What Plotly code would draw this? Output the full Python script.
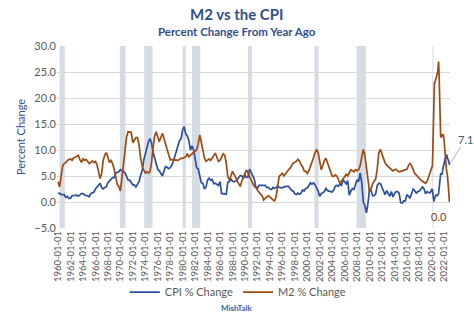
import pandas as pd
import plotly.graph_objects as go

# ---------------- data ----------------
# quarterly values Jan/Apr/Jul/Oct, 1960-2019
cpi_q = [
    1.6, 1.7, 1.4, 1.4, 1.4, 0.9, 1.1, 0.7, 0.7, 1.2, 1.2, 1.3, 1.3, 1.1, 1.4, 1.6, 1.6, 1.4, 1.2, 1.2,
    1.0, 1.6, 1.8, 1.9, 2.5, 2.8, 3.2, 3.6, 2.8, 2.5, 2.8, 2.9, 3.7, 4.0, 4.5, 4.7, 4.7, 5.5, 5.7, 5.8,
    6.2, 6.0, 5.8, 5.6, 4.9, 4.2, 4.2, 3.6, 3.3, 3.3, 2.9, 3.4, 3.9, 5.1, 6.0, 8.0, 9.4, 10.2, 11.5, 12.2,
    11.4, 9.6, 8.6, 7.4, 6.3, 6.0, 5.5, 5.0, 5.9, 6.8, 6.7, 6.4, 6.6, 7.0, 7.8, 8.9, 9.9, 10.7, 11.8, 12.2,
    13.9, 14.5, 13.1, 12.7, 11.8, 10.0, 10.8, 10.1, 8.4, 6.6, 6.4, 5.0, 3.7, 3.6, 2.5, 2.9, 4.2, 4.6, 4.2, 4.3,
    3.5, 3.6, 3.4, 3.2, 3.9, 1.6, 1.6, 1.5, 1.5, 3.8, 3.9, 4.5, 4.0, 3.9, 4.1, 4.2, 4.7, 5.1, 5.0, 4.5,
    5.2, 4.7, 4.8, 6.3, 5.7, 4.9, 4.4, 2.9, 2.6, 3.2, 3.2, 3.2, 3.3, 3.2, 2.8, 2.8, 2.5, 2.4, 2.8, 2.6,
    2.8, 3.1, 2.8, 2.8, 2.7, 2.9, 3.0, 3.0, 3.0, 2.5, 2.2, 2.1, 1.6, 1.4, 1.7, 1.5, 1.7, 2.3, 2.1, 2.6,
    2.7, 3.1, 3.7, 3.4, 3.7, 3.3, 2.7, 2.1, 1.1, 1.6, 1.8, 2.0, 2.6, 2.2, 2.1, 2.0, 1.9, 2.3, 3.0, 3.2,
    3.0, 3.5, 3.2, 4.3, 4.0, 3.5, 4.1, 1.3, 2.1, 2.6, 2.4, 3.5, 4.3, 3.9, 5.6, 3.7, 0.0, -0.7, -2.1, -0.2,
    2.6, 2.2, 1.2, 1.2, 1.6, 3.2, 3.6, 3.5, 2.9, 2.3, 1.4, 2.2, 1.6, 1.1, 2.0, 1.0, 1.6, 2.0, 2.0, 1.7,
    -0.1, -0.2, 0.2, 0.2, 1.4, 1.1, 0.8, 1.6, 2.5, 2.2, 1.7, 2.0, 2.1, 2.5, 2.9, 2.5, 1.6, 2.0, 1.8, 1.8,
]
m2_q = [
    3.9, 2.9, 5.0, 7.0, 7.4, 7.6, 8.0, 8.2, 8.3, 8.0, 8.5, 8.6, 8.8, 9.0, 8.2, 7.6, 8.3, 8.0, 8.2, 7.8,
    7.4, 7.6, 7.9, 7.6, 7.8, 7.2, 6.0, 4.5, 5.5, 8.0, 9.0, 9.5, 8.6, 7.6, 8.0, 7.4, 6.4, 5.0, 3.4, 3.0,
    2.1, 4.5, 7.5, 9.5, 12.5, 13.5, 13.4, 13.4, 11.4, 12.0, 12.4, 12.4, 11.0, 8.5, 6.9, 6.2, 5.6, 5.8, 5.6, 5.8,
    7.5, 10.5, 12.6, 13.5, 12.5, 11.6, 12.4, 13.2, 12.2, 11.3, 10.2, 9.3, 8.1, 8.2, 8.0, 8.1, 8.1, 8.0, 8.2, 8.4,
    8.4, 8.6, 8.7, 9.3, 8.7, 9.0, 9.3, 9.5, 9.8, 10.0, 11.2, 12.9, 11.5, 10.0, 8.5, 7.8, 8.1, 8.3, 8.0, 8.6,
    9.0, 9.4, 8.6, 7.8, 8.0, 8.8, 9.3, 9.0, 7.5, 4.9, 4.2, 5.0, 5.9, 5.3, 4.8, 4.0, 3.5, 3.0, 4.0, 4.9,
    5.5, 6.2, 5.5, 4.8, 4.0, 3.6, 3.0, 2.8, 2.3, 1.8, 1.5, 1.2, 0.4, 0.7, 1.0, 1.2, 1.0, 0.6, 0.4, 0.2,
    1.0, 3.0, 4.9, 5.2, 5.5, 5.0, 5.4, 6.0, 6.2, 6.5, 7.0, 7.5, 7.6, 7.8, 8.2, 7.9, 7.2, 6.8, 6.0, 5.9,
    5.5, 6.0, 6.8, 7.5, 8.5, 9.5, 10.1, 9.5, 7.5, 6.2, 7.0, 8.0, 8.4, 7.6, 6.8, 5.8, 5.0, 4.9, 5.2, 5.0,
    4.3, 3.6, 4.0, 4.5, 5.0, 5.3, 5.0, 5.8, 6.2, 6.0, 5.8, 6.2, 6.0, 6.2, 7.0, 8.6, 10.1, 9.0, 6.5, 4.0,
    2.0, 2.5, 3.5, 4.0, 4.5, 6.5, 9.5, 10.1, 9.2, 8.0, 7.5, 7.1, 6.8, 6.6, 6.2, 6.0, 6.2, 6.3, 6.0, 5.8,
    5.9, 6.0, 6.2, 6.2, 6.3, 7.0, 7.4, 7.0, 6.0, 5.5, 5.2, 4.8, 4.4, 4.2, 4.0, 3.8, 3.6, 4.0, 5.0, 5.8,
]
# monthly values Jan 2020 - Nov 2022
cpi_m = [
    2.5, 2.3, 1.5, 0.3, 0.1, 0.6, 1.0, 1.3, 1.4, 1.2, 1.2, 1.4,
    1.4, 1.7, 2.6, 4.2, 5.0, 5.4, 5.4, 5.3, 5.4, 6.2, 6.8, 7.0,
    7.5, 7.9, 8.5, 8.3, 8.6, 9.1, 8.5, 8.3, 8.2, 7.7, 7.1,
]
m2_m = [
    6.8, 6.9, 10.1, 17.3, 23.1, 23.1, 23.0, 23.3, 24.0, 24.1, 24.6, 24.9,
    25.8, 27.0, 24.5, 18.6, 14.5, 12.7, 12.5, 12.6, 13.0, 12.9, 13.0, 12.5,
    11.6, 10.4, 8.8, 7.8, 6.3, 5.8, 5.1, 4.0, 2.5, 1.3, 0.0,
]
recessions = [
    ("1960-04-01", "1961-02-01"), ("1969-12-01", "1970-11-01"),
    ("1973-11-01", "1975-03-01"), ("1980-01-01", "1980-07-01"),
    ("1981-07-01", "1982-11-01"), ("1990-07-01", "1991-03-01"),
    ("2001-03-01", "2001-11-01"), ("2007-12-01", "2009-06-01"),
    ("2020-02-01", "2020-04-01"),
]
tick_years = list(range(1960, 2023, 2))

dates = list(pd.date_range("1960-01-01", periods=len(cpi_q), freq="QS")) + \
        list(pd.date_range("2020-01-01", periods=len(cpi_m), freq="MS"))
cpi = cpi_q + cpi_m
m2 = m2_q + m2_m

FONT = "Lato, 'Open Sans', sans-serif"
BLUE = "#2C4F9E"
BROWN = "#9E4A12"
TITLE = "#2F4F8F"
GRAY = "#595959"

fig = go.Figure()
for s, e in recessions:
    fig.add_shape(type="rect", xref="x", yref="y", x0=s, x1=e, y0=-5, y1=30,
                  fillcolor="#D6DCE4", line_width=0, layer="below")

fig.add_trace(go.Scatter(x=dates, y=cpi, mode="lines", name="CPI % Change",
                         line=dict(color=BLUE, width=1.7)))
fig.add_trace(go.Scatter(x=dates, y=m2, mode="lines", name="M2 % Change",
                         line=dict(color=BROWN, width=1.7)))

fig.update_layout(
    width=474, height=322,
    margin=dict(l=57, r=24, t=46, b=94, autoexpand=False),
    paper_bgcolor="white", plot_bgcolor="white",
    font=dict(family=FONT, color=GRAY),
    showlegend=True,
    legend=dict(orientation="h", x=0.46, xanchor="center", y=-0.352, yanchor="middle",
                font=dict(size=11, color=GRAY), itemwidth=30, bgcolor="rgba(0,0,0,0)"),
    xaxis=dict(type="date", range=["1959-11-01", "2022-12-01"], automargin=False,
               tickvals=[f"{y}-01-01" for y in tick_years],
               ticktext=[f"{y}-01-01" for y in tick_years],
               tickangle=-90, tickfont=dict(size=9.5, color=GRAY),
               showgrid=False, showline=False, ticks="", zeroline=False),
    yaxis=dict(range=[-5, 30], dtick=5, tick0=0, tickformat=".1f", automargin=False,
               gridcolor="#D9D9D9", gridwidth=1, zeroline=False, showline=False,
               tickfont=dict(size=11, color=GRAY),
               title=dict(text="Percent Change", font=dict(size=11, color=TITLE), standoff=6)),
)

fig.add_annotation(xref="paper", yref="paper", x=0.458, y=1.176, text="<b>M2 vs the CPI</b>",
                   showarrow=False, font=dict(size=15, color=TITLE), xanchor="center", yanchor="middle")
fig.add_annotation(xref="paper", yref="paper", x=0.458, y=1.082,
                   text="<b>Percent Change From Year Ago</b>",
                   showarrow=False, font=dict(size=11.5, color=TITLE), xanchor="center", yanchor="middle")
fig.add_annotation(xref="paper", yref="paper", x=0.458, y=-0.44, text="<b>MishTalk</b>",
                   showarrow=False, font=dict(size=8, color="#3F5FAA"), xanchor="center", yanchor="middle")

fig.add_annotation(x=dates[-1], y=cpi[-1], text=f"{cpi[-1]:.1f}", showarrow=True,
                   arrowhead=0, arrowwidth=0.8, arrowcolor="#A6A6A6", ax=16, ay=-26,
                   font=dict(size=11, color="#44546A"))
fig.add_annotation(x=dates[-1], y=m2[-1], text=f"{m2[-1]:.1f}", showarrow=False,
                   xshift=-10, yshift=-14, font=dict(size=11, color="#843C0C"))

fig.write_html("out.html")
